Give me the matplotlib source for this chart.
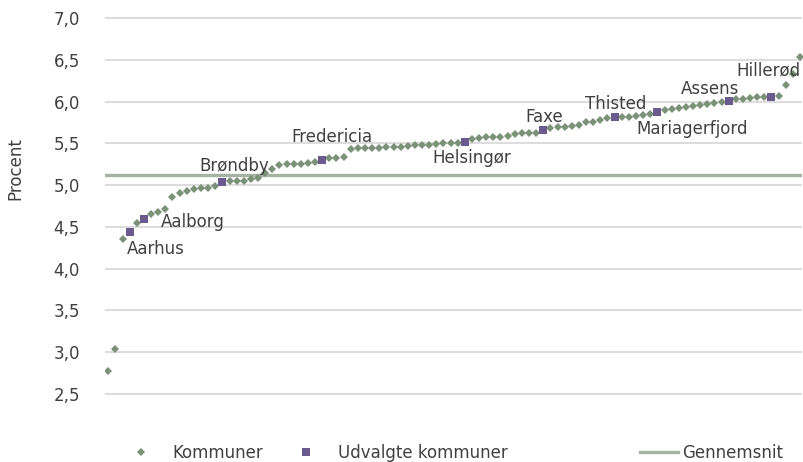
import numpy as np
import matplotlib
matplotlib.use("Agg")
import matplotlib.pyplot as plt
from matplotlib.lines import Line2D

# data: kommuner sorteret efter værdi (procent)
values = [
    2.77, 3.04, 4.35, 4.44, 4.55, 4.60, 4.65, 4.68, 4.72, 4.86,
    4.90, 4.93, 4.95, 4.96, 4.97, 4.99, 5.04, 5.05, 5.05, 5.05,
    5.07, 5.09, 5.14, 5.19, 5.24, 5.25, 5.25, 5.25, 5.26, 5.28,
    5.30, 5.32, 5.33, 5.34, 5.43, 5.44, 5.44, 5.44, 5.45, 5.46,
    5.46, 5.46, 5.47, 5.48, 5.48, 5.48, 5.49, 5.50, 5.50, 5.50,
    5.52, 5.55, 5.56, 5.57, 5.58, 5.58, 5.59, 5.61, 5.62, 5.62,
    5.62, 5.66, 5.68, 5.69, 5.70, 5.71, 5.72, 5.75, 5.76, 5.78,
    5.80, 5.82, 5.82, 5.82, 5.83, 5.84, 5.85, 5.88, 5.90, 5.91,
    5.92, 5.93, 5.95, 5.96, 5.97, 5.98, 6.00, 6.01, 6.03, 6.03,
    6.04, 6.05, 6.06, 6.06, 6.07, 6.20, 6.33, 6.53,
]

# udvalgte kommuner og deres placering (1 = laveste)
selected_names = ["Aarhus", "Aalborg", "Brøndby", "Fredericia", "Helsingør",
                  "Faxe", "Thisted", "Mariagerfjord", "Assens", "Hillerød"]
selected_rank = [4, 6, 17, 31, 51, 62, 72, 78, 88, 94]

average = 5.12

yticks = [2.5, 3.0, 3.5, 4.0, 4.5, 5.0, 5.5, 6.0, 6.5, 7.0]
ytick_labels = ["2,5", "3,0", "3,5", "4,0", "4,5", "5,0", "5,5", "6,0", "6,5", "7,0"]

# label offsets in pixels (dx, dy to baseline-left)
label_offsets = {
    "Aarhus": (-3, -22), "Aalborg": (17, -8), "Brøndby": (-23, 11),
    "Fredericia": (-31, 18), "Helsingør": (-32, -21), "Faxe": (-18, 8),
    "Thisted": (-30, 8), "Mariagerfjord": (-21, -22), "Assens": (-48, 7),
    "Hillerød": (-35, 21),
}

green = "#7b9178"
purple = "#6b5a8d"
avg_col = "#a5b4a1"
grid_col = "#d9d9d9"
txt_col = "#404040"

plt.rcParams["font.family"] = "DejaVu Sans"
plt.rcParams["font.size"] = 12

fig = plt.figure(figsize=(8.04, 4.62), dpi=100)
ax = fig.add_axes([105 / 804, 1 - 395 / 462, 697 / 804, 378 / 462])

x = np.arange(1, len(values) + 1)
sel_x = np.array(selected_rank)
sel_y = np.array([values[r - 1] for r in selected_rank])

ax.axhline(average, color=avg_col, lw=2.4, zorder=2)
ax.plot(x, values, ls="none", marker="D", ms=3.6, mew=0, color=green, zorder=3)
ax.plot(sel_x, sel_y, ls="none", marker="s", ms=5.2, mew=0, color=purple, zorder=4)

for name, xx, yy in zip(selected_names, sel_x, sel_y):
    dx, dy = label_offsets[name]
    ax.annotate(name, (xx, yy), xytext=(dx, dy), textcoords="offset pixels",
                ha="left", va="baseline", color=txt_col, fontsize=12, zorder=5)

ax.set_xlim(0.54, 98.28)
ax.set_ylim(2.488, 7.012)
ax.set_yticks(yticks)
ax.set_yticklabels(ytick_labels, color=txt_col)
ax.set_xticks([])
ax.tick_params(axis="y", length=0, pad=18)
ax.yaxis.grid(True, color=grid_col, lw=1.3)
ax.set_axisbelow(True)
for s in ax.spines.values():
    s.set_visible(False)

ax.set_ylabel("Procent", color=txt_col)
ax.yaxis.set_label_coords(-0.1155, 0.60)

# legend entries placed individually
h1 = Line2D([], [], ls="none", marker="D", ms=3.6, mew=0, color=green)
h2 = Line2D([], [], ls="none", marker="s", ms=5.2, mew=0, color=purple)
h3 = Line2D([], [], color=avg_col, lw=2.4)
common = dict(frameon=False, loc="center left", borderaxespad=0, borderpad=0,
              fontsize=12, labelcolor=txt_col)
fig.legend([h1], ["Kommuner"], bbox_to_anchor=(125 / 804, 1 - 453 / 462),
           handlelength=1.9, handletextpad=0.95, **common)
fig.legend([h2], ["Udvalgte kommuner"], bbox_to_anchor=(290 / 804, 1 - 453 / 462),
           handlelength=1.9, handletextpad=0.95, **common)
fig.legend([h3], ["Gennemsnit"], bbox_to_anchor=(640 / 804, 1 - 453 / 462),
           handlelength=2.3, handletextpad=0.2, **common)

fig.savefig("out.png", dpi=100)
